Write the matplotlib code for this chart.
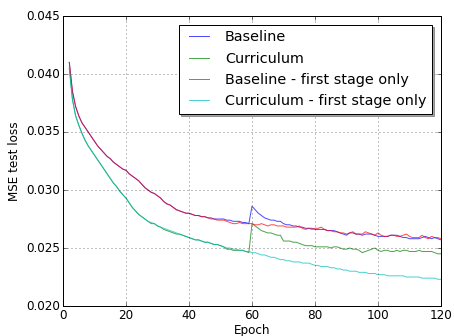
"""
plot.py - MSE test loss per epoch for baseline and curriculum training.
"""

import matplotlib

matplotlib.use("Agg")
import matplotlib.pyplot as plt

# === DATA ===

EPOCHS = list(range(2, 121))

# Baseline (blue)
BASELINE = [
    0.0410, 0.0385, 0.0372, 0.0364, 0.0358, 0.0354, 0.0350, 0.0346, 0.0342, 0.0338,
    0.0335, 0.0332, 0.0329, 0.0327, 0.0324, 0.0322, 0.0320, 0.0318, 0.0317, 0.0314,
    0.0312, 0.0310, 0.0308, 0.0305, 0.0302, 0.0300, 0.0298, 0.0297, 0.0295, 0.0293,
    0.0290, 0.0288, 0.0287, 0.0285, 0.0283, 0.0282, 0.0281, 0.0280, 0.0280, 0.0279,
    0.0278, 0.0278, 0.0277, 0.0277, 0.0276, 0.0276, 0.0275, 0.0275, 0.0275, 0.0275,
    0.0274, 0.0274, 0.0273, 0.0273, 0.0273, 0.0272, 0.0272, 0.0271, 0.0286, 0.0283,
    0.0280, 0.0278, 0.0276, 0.0275, 0.0274, 0.0274, 0.0273, 0.0273, 0.0271, 0.0270,
    0.0270, 0.0269, 0.0269, 0.0268, 0.0268, 0.0267, 0.0267, 0.0267, 0.0266, 0.0266,
    0.0266, 0.0266, 0.0265, 0.0265, 0.0265, 0.0264, 0.0263, 0.0262, 0.0261, 0.0263,
    0.0263, 0.0262, 0.0262, 0.0261, 0.0262, 0.0262, 0.0262, 0.0261, 0.0260, 0.0260,
    0.0260, 0.0260, 0.0261, 0.0261, 0.0261, 0.0260, 0.0259, 0.0259, 0.0258, 0.0258,
    0.0258, 0.0258, 0.0259, 0.0260, 0.0259, 0.0258, 0.0259, 0.0258, 0.0257,
]

# Curriculum (green)
CURRICULUM = [
    0.0405, 0.0378, 0.0364, 0.0356, 0.0349, 0.0343, 0.0338, 0.0334, 0.0330, 0.0326,
    0.0322, 0.0318, 0.0314, 0.0310, 0.0306, 0.0303, 0.0299, 0.0296, 0.0293, 0.0289,
    0.0285, 0.0282, 0.0279, 0.0277, 0.0275, 0.0273, 0.0271, 0.0271, 0.0269, 0.0268,
    0.0266, 0.0265, 0.0264, 0.0263, 0.0262, 0.0262, 0.0261, 0.0260, 0.0259, 0.0258,
    0.0257, 0.0257, 0.0256, 0.0255, 0.0255, 0.0254, 0.0253, 0.0253, 0.0252, 0.0251,
    0.0249, 0.0249, 0.0248, 0.0248, 0.0248, 0.0248, 0.0247, 0.0246, 0.0271, 0.0269,
    0.0267, 0.0265, 0.0264, 0.0263, 0.0263, 0.0262, 0.0261, 0.0261, 0.0256, 0.0256,
    0.0256, 0.0255, 0.0255, 0.0254, 0.0253, 0.0252, 0.0252, 0.0252, 0.0251, 0.0251,
    0.0251, 0.0251, 0.0251, 0.0250, 0.0251, 0.0251, 0.0250, 0.0249, 0.0249, 0.0250,
    0.0249, 0.0249, 0.0248, 0.0246, 0.0247, 0.0248, 0.0249, 0.0250, 0.0248, 0.0247,
    0.0248, 0.0248, 0.0247, 0.0247, 0.0248, 0.0247, 0.0248, 0.0248, 0.0247, 0.0247,
    0.0247, 0.0248, 0.0247, 0.0247, 0.0247, 0.0247, 0.0246, 0.0245, 0.0245,
]

# Baseline - first stage only (red)
BASELINE_FIRST = [
    0.0410, 0.0385, 0.0372, 0.0364, 0.0358, 0.0354, 0.0350, 0.0346, 0.0342, 0.0338,
    0.0335, 0.0332, 0.0329, 0.0327, 0.0324, 0.0322, 0.0320, 0.0318, 0.0317, 0.0314,
    0.0312, 0.0310, 0.0308, 0.0305, 0.0302, 0.0300, 0.0298, 0.0297, 0.0295, 0.0293,
    0.0290, 0.0288, 0.0287, 0.0285, 0.0283, 0.0282, 0.0281, 0.0280, 0.0280, 0.0279,
    0.0278, 0.0278, 0.0277, 0.0277, 0.0276, 0.0275, 0.0275, 0.0274, 0.0274, 0.0274,
    0.0273, 0.0272, 0.0271, 0.0271, 0.0272, 0.0271, 0.0271, 0.0271, 0.0271, 0.0270,
    0.0270, 0.0271, 0.0270, 0.0269, 0.0270, 0.0270, 0.0269, 0.0269, 0.0269, 0.0268,
    0.0268, 0.0268, 0.0268, 0.0269, 0.0267, 0.0266, 0.0267, 0.0266, 0.0267, 0.0267,
    0.0268, 0.0266, 0.0265, 0.0265, 0.0264, 0.0264, 0.0263, 0.0263, 0.0262, 0.0263,
    0.0264, 0.0262, 0.0262, 0.0262, 0.0264, 0.0263, 0.0262, 0.0261, 0.0263, 0.0261,
    0.0260, 0.0260, 0.0261, 0.0261, 0.0260, 0.0260, 0.0261, 0.0262, 0.0260, 0.0259,
    0.0259, 0.0259, 0.0261, 0.0259, 0.0258, 0.0260, 0.0259, 0.0259, 0.0258,
]

# Curriculum - first stage only (cyan)
CURRICULUM_FIRST = [
    0.0405, 0.0378, 0.0364, 0.0356, 0.0349, 0.0343, 0.0338, 0.0334, 0.0330, 0.0326,
    0.0322, 0.0318, 0.0314, 0.0310, 0.0306, 0.0303, 0.0299, 0.0296, 0.0293, 0.0289,
    0.0285, 0.0282, 0.0279, 0.0277, 0.0275, 0.0273, 0.0272, 0.0271, 0.0269, 0.0268,
    0.0267, 0.0266, 0.0265, 0.0264, 0.0263, 0.0262, 0.0261, 0.0260, 0.0259, 0.0258,
    0.0257, 0.0257, 0.0256, 0.0255, 0.0255, 0.0254, 0.0253, 0.0253, 0.0252, 0.0251,
    0.0250, 0.0250, 0.0249, 0.0249, 0.0248, 0.0248, 0.0247, 0.0247, 0.0246, 0.0246,
    0.0245, 0.0244, 0.0244, 0.0243, 0.0242, 0.0242, 0.0241, 0.0240, 0.0240, 0.0239,
    0.0239, 0.0238, 0.0238, 0.0238, 0.0237, 0.0237, 0.0237, 0.0236, 0.0235, 0.0235,
    0.0234, 0.0234, 0.0234, 0.0233, 0.0233, 0.0232, 0.0232, 0.0231, 0.0231, 0.0230,
    0.0230, 0.0230, 0.0229, 0.0229, 0.0229, 0.0228, 0.0228, 0.0228, 0.0227, 0.0227,
    0.0227, 0.0226, 0.0226, 0.0226, 0.0226, 0.0226, 0.0226, 0.0225, 0.0225, 0.0225,
    0.0225, 0.0225, 0.0224, 0.0224, 0.0224, 0.0224, 0.0224, 0.0223, 0.0223,
]

SERIES = [
    ("Baseline", BASELINE, "b"),
    ("Curriculum", CURRICULUM, "g"),
    ("Baseline - first stage only", BASELINE_FIRST, "r"),
    ("Curriculum - first stage only", CURRICULUM_FIRST, "c"),
]

YTICKS = [0.020, 0.025, 0.030, 0.035, 0.040, 0.045]
XTICKS = [0, 20, 40, 60, 80, 100, 120]


def main() -> None:
    plt.style.use("classic")
    plt.rcParams["font.family"] = ["DejaVu Sans"]
    plt.rcParams["font.size"] = 12

    fig = plt.figure(figsize=(454 / 72, 336 / 72), dpi=72, facecolor="white")
    ax = fig.add_axes([63 / 454, 30 / 336, 378 / 454, 290 / 336])

    for label, values, color in SERIES:
        ax.plot(EPOCHS, values, color=color, alpha=0.7, linewidth=1.0, label=label)

    ax.set_xlim(0, 120)
    ax.set_ylim(0.020, 0.045)
    ax.set_xticks(XTICKS)
    ax.set_yticks(YTICKS)
    ax.set_yticklabels([f"{t:.3f}" for t in YTICKS])
    ax.tick_params(axis="x", pad=3)
    ax.tick_params(axis="y", pad=3)
    # classic dotted grid
    ax.grid(True, linestyle=":", color="k", linewidth=0.5)

    ax.set_xlabel("Epoch", labelpad=2)
    ax.set_ylabel("MSE test loss")

    ax.legend(loc="upper right", fontsize=14.4, shadow=True, fancybox=False,
              borderaxespad=0.6)

    fig.savefig("out.png", dpi=72, facecolor="white")
    plt.close(fig)


if __name__ == "__main__":
    main()
